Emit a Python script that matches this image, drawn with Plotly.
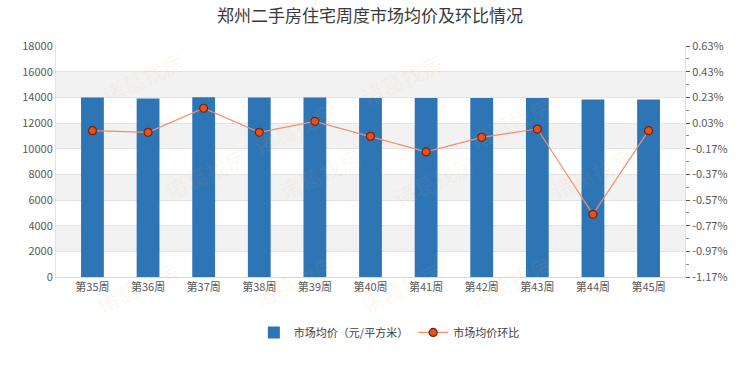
import plotly.graph_objects as go

weeks = ["第35周", "第36周", "第37周", "第38周", "第39周", "第40周",
         "第41周", "第42周", "第43周", "第44周", "第45周"]
avg_price = [13990, 13900, 14000, 13990, 13990, 13950,
             13940, 13945, 13950, 13830, 13825]
mom_pct = [-0.03, -0.043, 0.145, -0.043, 0.043, -0.074,
           -0.195, -0.082, -0.017, -0.682, -0.03]

left_ticks = list(range(0, 18001, 2000))
right_ticks = [round(-1.17 + 0.2 * i, 2) for i in range(10)]
right_labels = [f"{v:.2f}%" for v in right_ticks]

fig = go.Figure()

# alternating background bands
for i in range(len(left_ticks) - 1):
    if i % 2 == 1:
        fig.add_shape(type="rect", xref="paper", yref="y", x0=0, x1=1,
                      y0=left_ticks[i], y1=left_ticks[i + 1],
                      fillcolor="#f2f2f2", line_width=0, layer="below")

fig.add_trace(go.Bar(
    x=weeks, y=avg_price, name="市场均价（元/平方米）",
    marker=dict(color="#2E75B6", line_width=0), width=0.41,
))
fig.add_trace(go.Scatter(
    x=weeks, y=mom_pct, name="市场均价环比", yaxis="y2",
    mode="lines+markers",
    line=dict(color="#F0906A", width=1.2),
    marker=dict(color="#E8501E", size=8, line=dict(color="#6e2410", width=1.2)),
))

# faint watermark
wm = [(0.06, 1.02), (0.30, 0.80), (0.55, 1.01), (0.80, 0.82),
      (0.16, 0.45), (0.42, 0.45), (0.68, 0.42), (0.93, 0.45),
      (0.05, -0.20), (0.30, -0.17), (0.55, -0.20), (0.80, -0.17)]
for (xx, yy) in wm:
    fig.add_annotation(text="诸葛找房", xref="paper", yref="paper", x=xx, y=yy,
                       showarrow=False, textangle=-25,
                       font=dict(size=22, color="rgba(235,170,110,0.09)",
                                 family="Noto Sans CJK SC"))

fig.update_layout(
    width=740, height=370,
    margin=dict(l=56, r=52, t=46, b=93),
    paper_bgcolor="white", plot_bgcolor="white",
    font=dict(family="Noto Sans CJK SC, DejaVu Sans", color="#595959", size=11),
    title=dict(text="郑州二手房住宅周度市场均价及环比情况", x=0.5, xanchor="center",
               y=0.957, yanchor="middle",
               font=dict(size=17, color="#3a3a3a", family="Noto Sans CJK SC")),
    showlegend=True,
    legend=dict(orientation="h", x=0.53, xanchor="center", y=-0.24, yanchor="middle",
                font=dict(size=11, color="#404040"), itemwidth=30),
    xaxis=dict(showgrid=False, showline=True, linecolor="#d9d9d9",
               tickfont=dict(size=11, color="#595959"), ticks=""),
    yaxis=dict(range=[0, 18000], tickvals=left_ticks,
               ticktext=[str(v) for v in left_ticks], showgrid=True,
               gridcolor="#e3e3e3", gridwidth=1, zeroline=False,
               showline=True, linecolor="#e3e3e3",
               tickfont=dict(size=11, color="#595959")),
    yaxis2=dict(range=[-1.17, 0.63], tickvals=right_ticks, ticktext=right_labels,
                overlaying="y", side="right", showgrid=False, zeroline=False,
                ticks="outside", ticklen=4, tickcolor="#595959",
                minor=dict(ticks="outside", ticklen=3, tickcolor="#8c8c8c",
                           dtick=0.1, tick0=-1.17),
                showline=True, linecolor="#e3e3e3",
                tickfont=dict(size=11, color="#595959")),
)

fig.write_html("out.html", config={"displayModeBar": False},
               post_script="document.body.style.margin='0';")
